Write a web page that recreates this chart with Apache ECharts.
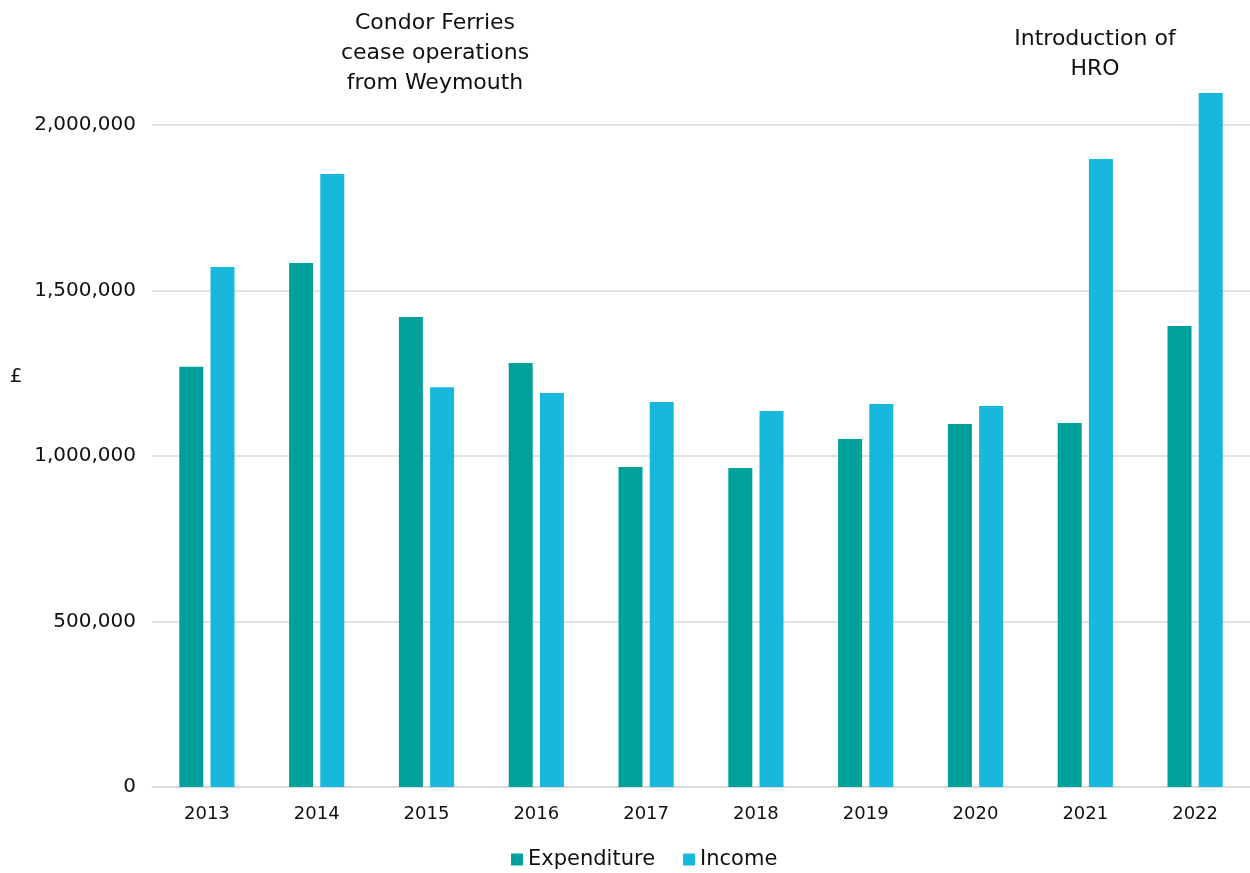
<!DOCTYPE html>
<html>
<head>
<meta charset="utf-8">
<script src="https://cdn.jsdelivr.net/npm/echarts@6/dist/echarts.min.js"></script>
<style>
  html, body { margin: 0; padding: 0; background: #ffffff; }
  #chart { width: 1250px; height: 873px; }
</style>
</head>
<body>
<div id="chart"></div>
<script>
// Harbour accounts, 2013-2022 (£)
const years = ['2013', '2014', '2015', '2016', '2017', '2018', '2019', '2020', '2021', '2022'];
const expenditure = [1270000, 1583000, 1420000, 1281000, 967000, 964000, 1051000, 1097000, 1100000, 1393000];
const income = [1571000, 1852000, 1208000, 1190000, 1163000, 1136000, 1157000, 1151000, 1897000, 2097000];
const yTicks = [0, 500000, 1000000, 1500000, 2000000];

const FONT = '"DejaVu Sans", "Noto Sans", sans-serif';
const TEXT = '#111111';

const chart = echarts.init(document.getElementById('chart'), null, { renderer: 'canvas' });

chart.setOption({
  backgroundColor: '#ffffff',
  animation: false,
  textStyle: { fontFamily: FONT, color: TEXT },
  grid: { left: 152, width: 1100, top: 125, bottom: 86, containLabel: false },
  legend: {
    bottom: -2,
    left: 506,
    itemWidth: 12,
    itemHeight: 12,
    itemGap: 28,
    icon: 'rect',
    textStyle: { fontFamily: FONT, fontSize: 21, color: TEXT, padding: [0, 0, 0, 0] },
    data: ['Expenditure', 'Income']
  },
  xAxis: {
    type: 'category',
    data: years,
    axisLine: { lineStyle: { color: '#d9d9d9', width: 1.5 } },
    axisTick: { show: false },
    axisLabel: { fontFamily: FONT, fontSize: 18, color: TEXT, margin: 18 }
  },
  yAxis: {
    type: 'value',
    min: yTicks[0],
    max: yTicks[yTicks.length - 1],
    interval: 500000,
    axisLine: { show: false },
    axisTick: { show: false },
    axisLabel: {
      fontFamily: FONT, fontSize: 20, color: TEXT, margin: 16,
      formatter: v => v.toLocaleString('en-GB')
    },
    splitLine: { lineStyle: { color: '#d9d9d9', width: 1.5 } }
  },
  series: [
    {
      name: 'Expenditure',
      type: 'bar',
      data: expenditure,
      barWidth: 24,
      barGap: '30%',
      clip: false,
      itemStyle: { color: '#00a19a' }
    },
    {
      name: 'Income',
      type: 'bar',
      data: income,
      barWidth: 24,
      barGap: '30%',
      clip: false,
      itemStyle: { color: '#17b8dc' }
    }
  ],
  graphic: [
    {
      type: 'text',
      x: 16, y: 377,
      style: {
        text: '£', align: 'center', verticalAlign: 'middle',
        font: '20px ' + FONT, fill: TEXT
      }
    },
    {
      type: 'text',
      x: 435, y: 8,
      style: {
        text: 'Condor Ferries\ncease operations\nfrom Weymouth',
        align: 'center', verticalAlign: 'top', lineHeight: 30,
        font: '22px ' + FONT, fill: TEXT
      }
    },
    {
      type: 'text',
      x: 1095, y: 24,
      style: {
        text: 'Introduction of\nHRO',
        align: 'center', verticalAlign: 'top', lineHeight: 30,
        font: '22px ' + FONT, fill: TEXT
      }
    }
  ]
});
</script>
</body>
</html>
